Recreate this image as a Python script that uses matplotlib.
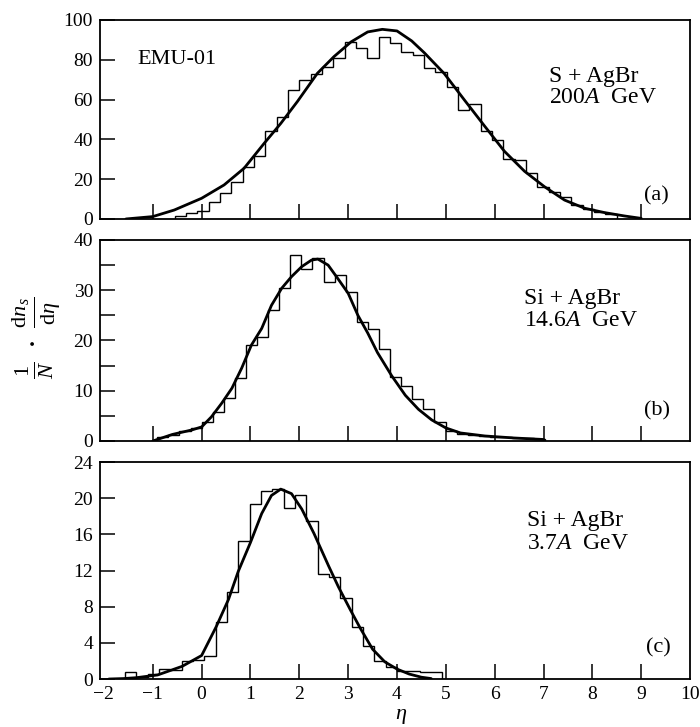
import numpy as np
import matplotlib
matplotlib.use('Agg')
import matplotlib.pyplot as plt
from matplotlib.ticker import MultipleLocator

plt.rcParams['font.family'] = ['Liberation Serif', 'DejaVu Serif']
plt.rcParams['mathtext.fontset'] = 'custom'
plt.rcParams['mathtext.rm'] = 'Liberation Serif'
plt.rcParams['mathtext.it'] = 'Liberation Serif:italic'
plt.rcParams['mathtext.bf'] = 'Liberation Serif:bold'

# ---------------- data ----------------
# (a) S + AgBr 200A GeV
a_bin_start = -0.554
a_bin_width = 0.232
a_hist = [1.5, 3.0, 4.2, 8.7, 13.0, 18.7, 26.0, 31.6, 44.0, 51.0, 65.0, 70.0, 73.0, 76.5,
          81.0, 89.0, 85.8, 80.7, 91.6, 88.3, 84.0, 82.4, 75.7, 74.0, 66.5, 55.0, 58.0,
          44.0, 39.7, 30.0, 29.5, 23.0, 16.2, 13.7, 11.2, 7.0, 4.9, 3.7, 2.5]
a_curve_x = [-1.55, -1.0, -0.56, 0.0, 0.46, 0.87, 1.28, 1.62, 1.96, 2.37, 2.71, 3.06, 3.4,
             3.7, 4.0, 4.3, 4.56, 4.97, 5.38, 5.79, 6.2, 6.61, 7.02, 7.43, 7.84, 8.25, 8.66, 9.0]
a_curve_y = [0.0, 1.2, 4.5, 10.4, 17.1, 25.5, 38.0, 48.0, 59.0, 73.2, 81.6, 89.0, 94.0,
             95.3, 94.5, 89.5, 83.5, 73.0, 59.8, 46.8, 34.0, 24.0, 16.2, 9.5, 5.4, 3.2, 1.5, 0.3]

# (b) Si + AgBr 14.6A GeV
b_bin_start = -0.908
b_bin_width = 0.227
b_hist = [0.8, 1.2, 2.0, 2.6, 3.8, 5.8, 8.5, 12.5, 19.1, 20.7, 26.0, 30.4, 37.1, 34.3,
          36.4, 31.7, 33.0, 29.6, 23.7, 22.2, 18.4, 12.8, 11.0, 8.3, 6.3, 3.8, 2.0, 1.4,
          1.1, 1.0, 0.8, 0.7, 0.6, 0.5, 0.4]
b_curve_x = [-1.0, -0.6, -0.2, 0.0, 0.2, 0.41, 0.62, 0.82, 1.02, 1.23, 1.43, 1.64, 1.84,
             2.05, 2.25, 2.38, 2.59, 2.79, 3.0, 3.2, 3.4, 3.6, 3.89, 4.17, 4.44, 4.71, 5.0,
             5.3, 5.8, 6.4, 7.0]
b_curve_y = [0.0, 1.3, 2.2, 2.8, 4.8, 7.5, 10.5, 14.5, 19.1, 22.4, 27.0, 30.4, 32.7,
             34.7, 36.0, 36.2, 35.0, 32.3, 29.4, 25.0, 21.5, 17.6, 13.0, 9.1, 6.3, 4.2, 2.6,
             1.6, 1.0, 0.6, 0.3]

# (c) Si + AgBr 3.7A GeV
c_bin_start = -1.57
c_bin_width = 0.232
c_hist = [0.8, 0.2, 0.5, 1.1, 0.95, 2.0, 2.1, 2.6, 6.3, 9.6, 15.3, 19.4, 20.8, 21.0,
          18.9, 20.4, 17.5, 11.6, 11.3, 9.0, 5.7, 3.6, 2.0, 1.3, 0.9, 0.9, 0.8, 0.8]
c_curve_x = [-1.9, -1.6, -1.33, -0.9, -0.4, 0.0, 0.3, 0.55, 0.75, 1.0, 1.23, 1.43, 1.62,
             1.84, 2.05, 2.3, 2.6, 2.8, 3.05, 3.25, 3.5, 3.75, 4.0, 4.25, 4.5, 4.7]
c_curve_y = [0.0, 0.05, 0.15, 0.45, 1.4, 2.6, 5.8, 8.8, 11.9, 15.1, 18.3, 20.3, 21.0,
             20.5, 18.8, 16.1, 12.5, 10.2, 7.6, 5.6, 3.3, 1.9, 1.1, 0.55, 0.2, 0.05]

x_tick_vals = list(range(-2, 11))
x_tick_labels = ['\u22122', '\u22121', '0', '1', '2', '3', '4', '5', '6', '7', '8', '9', '10']

panels = [
    dict(start=a_bin_start, width=a_bin_width, hist=a_hist, cx=a_curve_x, cy=a_curve_y,
         ylim=100, ymajor=20, yminor=None,
         lines=['S + AgBr', '200$A$  GeV'], tpos=(7.11, 71.4, 60.8), tag='(a)', tagpos=(9.31, 11.5)),
    dict(start=b_bin_start, width=b_bin_width, hist=b_hist, cx=b_curve_x, cy=b_curve_y,
         ylim=40, ymajor=10, yminor=5,
         lines=['Si + AgBr', '14.6$A$  GeV'], tpos=(6.60, 28.4, 24.0), tag='(b)', tagpos=(9.33, 6.0)),
    dict(start=c_bin_start, width=c_bin_width, hist=c_hist, cx=c_curve_x, cy=c_curve_y,
         ylim=24, ymajor=4, yminor=None,
         lines=['Si + AgBr', '3.7$A$  GeV'], tpos=(6.67, 17.5, 15.0), tag='(c)', tagpos=(9.35, 3.5)),
]

fig = plt.figure(figsize=(7.0, 7.27), dpi=100)
left, width = 0.1429, 0.8429
boxes = [(0.6988, 0.2737), (0.3934, 0.2765), (0.066, 0.2985)]

for i, (p, (bot, h)) in enumerate(zip(panels, boxes)):
    ax = fig.add_axes([left, bot, width, h])
    n = len(p['hist'])
    edges = p['start'] + p['width'] * np.arange(n + 1)
    ax.stairs(p['hist'], edges, baseline=0, color='black', lw=1.0)
    ax.plot(p['cx'], p['cy'], color='black', lw=2.0, solid_capstyle='round')
    ax.set_xlim(-2.08, 10.0)
    ax.set_ylim(0, p['ylim'])
    for s in ax.spines.values():
        s.set_linewidth(1.3)
    ax.set_xticks(x_tick_vals)
    ax.tick_params(axis='x', direction='in', length=11, width=1.1, labelsize=14, pad=5)
    xt = ax.xaxis.get_major_ticks()
    xt[0].tick1line.set_visible(False)
    xt[-1].tick1line.set_visible(False)
    if i == 2:
        ax.set_xticklabels(x_tick_labels)
    else:
        ax.set_xticklabels([])
    ax.yaxis.set_major_locator(MultipleLocator(p['ymajor']))
    if p['yminor']:
        ax.yaxis.set_minor_locator(MultipleLocator(p['yminor']))
    ax.tick_params(axis='y', which='both', direction='in', length=11, width=1.1, labelsize=14, pad=5)
    ax.tick_params(axis='y', which='minor', length=11)
    tx, ty1, ty2 = p['tpos']
    ax.text(tx, ty1, p['lines'][0], fontsize=17, va='center', ha='left')
    ax.text(tx, ty2, p['lines'][1], fontsize=17, va='center', ha='left')
    ax.text(p['tagpos'][0], p['tagpos'][1], p['tag'], fontsize=16, va='center', ha='center')
    if i == 0:
        ax.text(-1.31, 80, 'EMU-01', fontsize=16, va='center', ha='left')

fig.text(0.051, 0.535, r'$\frac{1}{N}\ \bullet\ \frac{\mathrm{d}n_s}{\mathrm{d}\eta}$',
         rotation=90, fontsize=23, ha='center', va='center')
fig.text(0.573, 0.002, r'$\eta$', fontsize=16, ha='center', va='bottom')

fig.savefig('out.png', dpi=100)
